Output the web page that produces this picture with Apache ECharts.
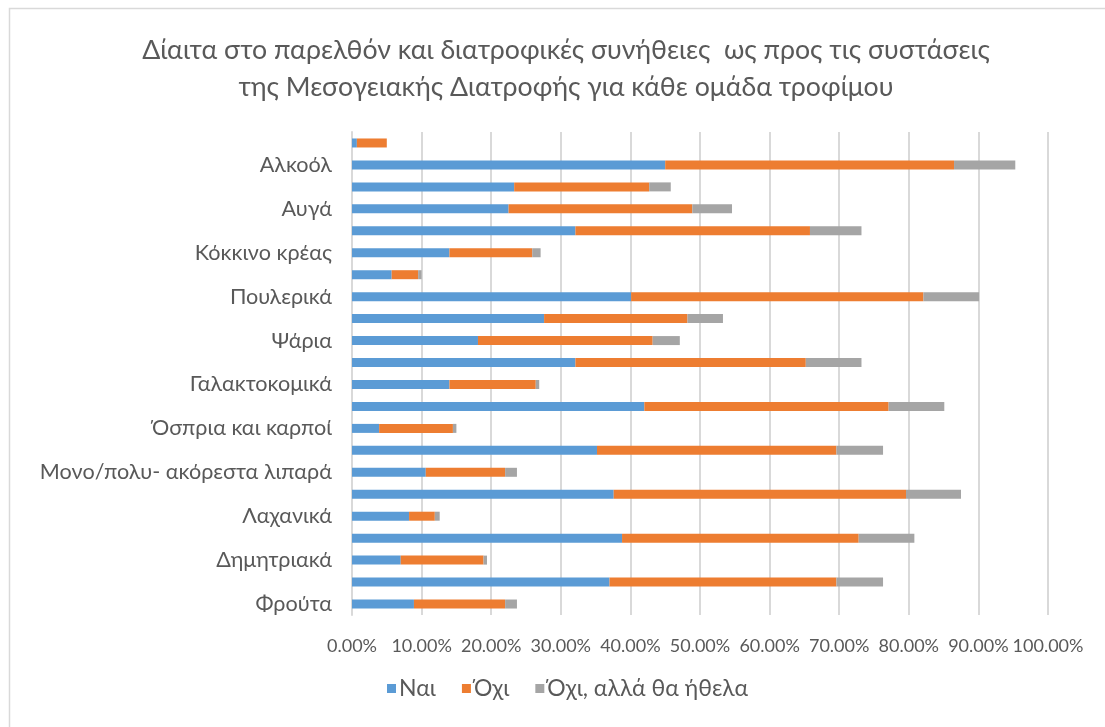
<!DOCTYPE html>
<html>
<head>
<meta charset="utf-8">
<script src="https://cdn.jsdelivr.net/npm/echarts@6/dist/echarts.min.js"></script>
<style>
html,body{margin:0;padding:0;background:#fff;}
#chart{width:1105px;height:727px;}
</style>
</head>
<body>
<div id="chart"></div>
<script>
// Categories from bottom to top (alternate entries are unlabeled in the original)
const categories = [
  'Φρούτα', '',
  'Δημητριακά', '',
  'Λαχανικά', '',
  'Μονο/πολυ- ακόρεστα λιπαρά', '',
  'Όσπρια και καρποί', '',
  'Γαλακτοκομικά', '',
  'Ψάρια', '',
  'Πουλερικά', '',
  'Κόκκινο κρέας', '',
  'Αυγά', '',
  'Αλκοόλ', ''
];
const seriesNames = ['Ναι', 'Όχι', 'Όχι, αλλά θα ήθελα'];
const yesValues   = [8.9, 37.0, 7.0, 38.8, 8.2, 37.6, 10.6, 35.2, 3.9, 42.0, 14.0, 32.1, 18.1, 27.6, 40.1, 5.7, 14.0, 32.1, 22.5, 23.3, 45.0, 0.7];
const noValues    = [13.1, 32.6, 11.9, 34.0, 3.7, 42.0, 11.4, 34.4, 10.6, 35.1, 12.4, 33.1, 25.1, 20.6, 42.0, 3.8, 11.9, 33.7, 26.4, 19.4, 41.5, 4.3];
const wishValues  = [1.7, 6.7, 0.5, 8.0, 0.7, 7.9, 1.7, 6.7, 0.5, 8.0, 0.5, 8.0, 3.9, 5.1, 8.0, 0.5, 1.2, 7.4, 5.7, 3.1, 8.8, 0];
const xTicks = [0, 10, 20, 30, 40, 50, 60, 70, 80, 90, 100];
const colors = ['#5B9BD5', '#ED7D31', '#A5A5A5'];

const chart = echarts.init(document.getElementById('chart'), null, {renderer: 'canvas'});
const font = 'Lato, "Open Sans", sans-serif';
const mk = (name, data, i) => ({
  name: name,
  type: 'bar',
  stack: 'total',
  data: data,
  barWidth: 9,
  itemStyle: {color: colors[i]},
  emphasis: {disabled: true}
});
chart.setOption({
  animation: false,
  textStyle: {fontFamily: font},
  graphic: [{
    type: 'rect',
    shape: {x: 9.5, y: 8.5, width: 1200, height: 800},
    style: {fill: 'none', stroke: '#d9d9d9', lineWidth: 1.5},
    silent: true,
    z: -10
  }],
  title: {
    text: 'Δίαιτα στο παρελθόν και διατροφικές συνήθειες  ως προς τις συστάσεις\nτης Μεσογειακής Διατροφής για κάθε ομάδα τροφίμου',
    left: 561,
    top: 27,
    textAlign: 'center',
    textStyle: {fontFamily: font, fontSize: 26.7, fontWeight: 'normal', color: '#595959', lineHeight: 37, align: 'center'}
  },
  legend: {
    data: seriesNames,
    bottom: 22,
    left: 382,
    itemWidth: 9,
    itemHeight: 9,
    itemGap: 26,
    icon: 'rect',
    textStyle: {fontFamily: font, fontSize: 23, color: '#595959', padding: [0, 0, 0, -2]}
  },
  grid: {left: 352, right: 57, top: 132, bottom: 112, containLabel: false},
  xAxis: {
    type: 'value',
    min: 0,
    max: 100,
    interval: 10,
    axisLine: {show: false},
    axisTick: {show: false},
    splitLine: {show: true, lineStyle: {color: '#d9d9d9', width: 2}},
    axisLabel: {
      fontFamily: font,
      fontSize: 18,
      color: '#595959',
      margin: 22,
      formatter: v => v.toFixed(2) + '%'
    }
  },
  yAxis: {
    type: 'category',
    data: categories,
    axisLine: {show: true, lineStyle: {color: '#d9d9d9', width: 2}},
    axisTick: {show: false},
    axisLabel: {
      interval: 1,
      fontFamily: font,
      fontSize: 21.6,
      color: '#595959',
      margin: 20
    }
  },
  series: [
    mk(seriesNames[0], yesValues, 0),
    mk(seriesNames[1], noValues, 1),
    mk(seriesNames[2], wishValues, 2)
  ]
});
</script>
</body>
</html>
